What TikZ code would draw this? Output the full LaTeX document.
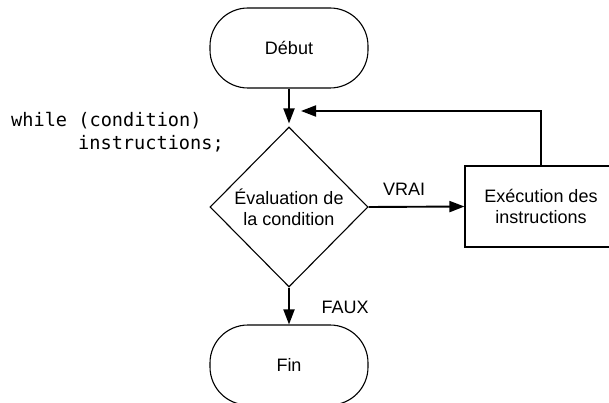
\documentclass[tikz,border=0pt]{standalone}
\usepackage{fontspec}
\setmainfont{Liberation Sans}
\newfontfamily\codefont{DejaVu Sans Mono}
\usetikzlibrary{arrows.meta,shapes.geometric}
\tikzset{
  term/.style={draw, line width=1.1pt, rounded corners=38pt, minimum width=158pt, minimum height=80pt, font=\fontsize{18}{21}\selectfont},
  decis/.style={draw, diamond, line width=1.1pt, inner sep=-8pt, minimum width=158pt, minimum height=160pt, align=center, font=\fontsize{18}{21}\selectfont},
  procbox/.style={draw, line width=1.1pt, minimum width=152pt, minimum height=81pt, align=center, font=\fontsize{18}{21}\selectfont},
  conn/.style={line width=1.9pt, -{Triangle[length=15pt,width=11pt]}},
  lbl/.style={font=\fontsize{18}{21}\selectfont},
  codetxt/.style={font=\codefont\fontsize{18.6}{23}\selectfont, anchor=base west, inner sep=0pt}
}
\begin{document}
\begin{tikzpicture}[x=1pt,y=-1pt]
\useasboundingbox (0,0) rectangle (609,403);
\node[term] (debut) at (289,48) {Début};
\node[decis] (cond) at (289,207) {Évaluation de\\la condition};
\node[procbox] (exec) at (541,206.5) {Exécution des\\instructions};
\node[term] (fin) at (289,365) {Fin};
\node[codetxt] (code1) at (11,127) {while (condition)};
\node[codetxt] (code2) at (78,150) {instructions;};
\coordinate (loopend) at (301,111);
\draw[conn, shorten >=3pt] (debut.south) -- (cond.north);
\draw[conn] (exec.north) |- (loopend);
\draw[conn] (cond.east) -- (exec.west);
\node[lbl] (vrai) at (404,189) {VRAI};
\draw[conn] (cond.south) -- (fin.north);
\node[lbl] (faux) at (345,307) {FAUX};
\end{tikzpicture}
\end{document}
